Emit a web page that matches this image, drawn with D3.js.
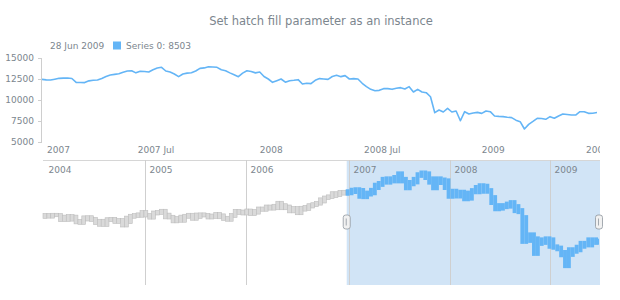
<!DOCTYPE html>
<html>
<head>
<meta charset="utf-8">
<script src="https://cdn.jsdelivr.net/npm/d3@7"></script>
<style>
  body { margin: 0; background: #fff; }
  svg { display: block; font-family: Verdana, "DejaVu Sans", sans-serif; }
  .lbl { fill: #7c868e; font-size: 9px; }
</style>
</head>
<body>
<svg id="chart" width="620" height="300"></svg>
<script>
// weekly closes, one per Sunday from 4 Jan 2004 to 28 Jun 2009
const close2004 = [10450, 10600, 10570, 10490, 10470, 10580, 10620, 10580, 10590, 10240, 10190, 10210, 10470,
  10510, 10450, 10470, 10230, 10120, 10010, 9970, 10120, 10240, 10410, 10420, 10370, 10280, 10210, 10140, 9960,
  10140, 9820, 9810, 10110, 10190, 10260, 10290, 10280, 10050, 10080, 10190, 10050, 9930, 9760, 10030, 10390,
  10540, 10460, 10520, 10590, 10540, 10650, 10830];
const close2005 = [10780, 10600, 10560, 10390, 10470, 10720, 10800, 10790, 10840, 10940, 10770, 10630, 10410,
  10400, 10460, 10090, 10160, 10190, 10350, 10140, 10470, 10540, 10460, 10510, 10620, 10300, 10300, 10450, 10640,
  10650, 10640, 10560, 10600, 10560, 10400, 10460, 10450, 10680, 10640, 10420, 10570, 10290, 10290, 10220, 10380,
  10530, 10590, 10770, 10930, 10880, 10780, 10880];
const close2006 = [10720, 10960, 10960, 10670, 10910, 10790, 10920, 11120, 11060, 11020, 11080, 11280, 11280,
  11110, 11120, 11140, 11340, 11380, 11580, 11380, 11140, 11280, 11250, 10890, 11010, 10990, 11150, 11090, 10740,
  11030, 11180, 11240, 11090, 11380, 11280, 11460, 11390, 11560, 11510, 11680, 11850, 11960, 12000, 12090, 12030,
  12110, 12340, 12280, 12190, 12310, 12450, 12340, 12460];
const close2007 = [12400, 12380, 12480, 12580, 12600, 12620, 12560, 12100, 12080, 12070, 12280, 12350, 12380,
  12570, 12800, 12980, 13050, 13120, 13300, 13450, 13490, 13230, 13420, 13400, 13330, 13600, 13800, 13890, 13450,
  13330, 13100, 12780, 13100, 13200, 13250, 13450, 13770, 13820, 13960, 13930, 13890, 13600, 13490, 13230, 13000,
  12780, 13200, 13490, 13400, 13230, 13330, 12800];
const close2008 = [12500, 12100, 12300, 12500, 12120, 12300, 12350, 12420, 11900, 12000, 11950, 12350, 12550,
  12500, 12460, 12800, 12940, 12780, 12900, 12500, 12550, 12500, 11990, 11600, 11270, 11100, 11150, 11350, 11350,
  11270, 11400, 11470, 11310, 11590, 10950, 11270, 10950, 10870, 10390, 8490, 8810, 8570, 9010, 8570, 8690, 7530,
  8610, 8330, 8450, 8530, 8410, 8690];
const close2009 = [8610, 8100, 8050, 8020, 7950, 7900, 7600, 7420, 6550, 7100, 7450, 7820, 7800, 7700, 8020,
  7820, 8100, 8330, 8270, 8210, 8210, 8610, 8610, 8410, 8420, 8503];

const seriesName = "Series 0";
const titleText = "Set hatch fill parameter as an instance";
const yTicks = [5000, 7500, 10000, 12500, 15000];
const mainTicks = ["2007-01-07", "2007-07-01", "2008-01-06", "2008-07-06", "2009-01-04", "2009-07-05"];
const mainTickLabels = ["2007", "2007 Jul", "2008", "2008 Jul", "2009", "2009 Jul"];
const scrollTicks = ["2004-01-04", "2005-01-02", "2006-01-01", "2007-01-07", "2008-01-06", "2009-01-04"];
const scrollTickLabels = ["2004", "2005", "2006", "2007", "2008", "2009"];
const selectionStart = "2006-12-31";

const parse = d3.timeParse("%Y-%m-%d");
const closes = [].concat(close2004, close2005, close2006, close2007, close2008, close2009);
const dates = d3.timeWeek.range(new Date(2004, 0, 4), new Date(2009, 5, 29));
const data = dates.map((d, i) => ({ date: d, value: closes[i] }));
const last = data[data.length - 1];
const selStart = parse(selectionStart);

const svg = d3.select("#chart");
const blue = "#64b5f6";

// title
svg.append("text")
  .attr("x", 321).attr("y", 25)
  .attr("text-anchor", "middle")
  .attr("fill", "#7c868e")
  .style("font-size", "11.5px")
  .text(titleText);

// legend
const legend = svg.append("g").attr("transform", "translate(50,49)");
legend.append("text").attr("class", "lbl").attr("x", 0).attr("y", 0)
  .text(d3.timeFormat("%d %b %Y")(last.date));
legend.append("rect").attr("x", 63).attr("y", -7.5).attr("width", 8).attr("height", 8).attr("fill", blue);
legend.append("text").attr("class", "lbl").attr("x", 76).attr("y", 0)
  .text(`${seriesName}: ${last.value}`);

// ---- main plot
const main = { left: 42, right: 600, top: 58, bottom: 142 };
const x = d3.scaleTime().domain([selStart, last.date]).range([main.left, 597]);
const y = d3.scaleLinear().domain([5000, 15000]).range([main.bottom, main.top]);

svg.append("clipPath").attr("id", "mainClip")
  .append("rect").attr("x", main.left).attr("y", 0).attr("width", main.right - main.left).attr("height", 160);

const yAxis = svg.append("g").attr("transform", `translate(${main.left},0)`)
  .call(d3.axisLeft(y).tickValues(yTicks).tickSize(4).tickPadding(4).tickFormat(d3.format("d")));
yAxis.select(".domain").attr("stroke", "#cecece").attr("d", `M-0.5,${main.top}V${main.bottom}`);
yAxis.selectAll(".tick line").attr("stroke", "#cecece");
yAxis.selectAll(".tick text").attr("class", "lbl").attr("fill", null).style("font-size", null);
yAxis.attr("font-family", null).attr("font-size", null);

// x labels, clipped at the plot edge like the original
const xLabels = svg.append("g").attr("clip-path", "url(#mainClip)");
mainTicks.forEach((t, i) => {
  const txt = xLabels.append("text").attr("class", "lbl").attr("y", 153)
    .attr("text-anchor", "middle").text(mainTickLabels[i]);
  const w = txt.node().getComputedTextLength();
  let cx = x(parse(t)) + 3;
  if (cx - w / 2 < main.left + 5) cx = main.left + 5 + w / 2;
  txt.attr("x", cx);
});

const line = d3.line().x(d => x(d.date)).y(d => y(d.value));
svg.append("path")
  .datum(data.filter(d => d.date >= selStart))
  .attr("clip-path", "url(#mainClip)")
  .attr("fill", "none")
  .attr("stroke", blue)
  .attr("stroke-width", 1.6)
  .attr("stroke-linejoin", "round")
  .attr("d", line);

// ---- scroller
const sc = { left: 44, right: 599, top: 160, bottom: 285 };
const xs = d3.scaleTime().domain([data[0].date, last.date]).range([sc.left, sc.right]);
const ys = d3.scaleLinear().domain([5000, 15000]).range([sc.bottom, sc.top]);

svg.append("line").attr("x1", 43).attr("x2", 600).attr("y1", sc.top + 0.5).attr("y2", sc.top + 0.5)
  .attr("stroke", "#d6d6d6");

// selected range
svg.append("rect")
  .attr("x", xs(selStart)).attr("y", sc.top + 1)
  .attr("width", xs(last.date) - xs(selStart) + 1).attr("height", sc.bottom - sc.top - 1)
  .attr("fill", "#1976d2").attr("fill-opacity", 0.2);

scrollTicks.forEach((t, i) => {
  const gx = Math.round(xs(parse(t))) + 0.5;
  if (i > 0) {
    svg.append("line").attr("x1", gx).attr("x2", gx).attr("y1", sc.top).attr("y2", sc.bottom)
      .attr("stroke", "#cfcfcf");
  }
  svg.append("text").attr("class", "lbl").attr("x", gx + 4).attr("y", 173).text(scrollTickLabels[i]);
});

// two-week bars spanning previous close, own closes and next close
const bars = [];
for (let i = 0; i < data.length; i += 2) {
  const grp = data.slice(i, i + 2);
  const open = i > 0 ? data[i - 1].value : data[0].value;
  const next = data[i + 2] ? data[i + 2].value : grp[grp.length - 1].value;
  const vals = [open, next].concat(grp.map(d => d.value));
  bars.push({
    date: data[i].date,
    end: d3.timeDay.offset(data[i].date, 14),
    lo: d3.min(vals), hi: d3.max(vals),
    sel: data[i].date >= selStart
  });
}
svg.append("g").selectAll("rect").data(bars).join("rect")
  .attr("x", d => xs(d.date) - 1)
  .attr("width", d => Math.min(xs(d.end), sc.right + 1) - xs(d.date))
  .attr("y", d => ys(d.hi) - (d.sel ? 2.5 : 1.5))
  .attr("height", d => Math.max(ys(d.lo) - ys(d.hi), 0) + (d.sel ? 5 : 3))
  .attr("fill", d => d.sel ? blue : "#dadada")
  .attr("stroke", d => d.sel ? "none" : "#bdbdbd")
  .attr("stroke-width", 0.6);

// handles
[xs(selStart), xs(last.date)].forEach(hx => {
  const g = svg.append("g").attr("transform", `translate(${hx},222)`);
  g.append("rect").attr("x", -3.5).attr("y", -7).attr("width", 7).attr("height", 14).attr("rx", 2.5)
    .attr("fill", "#f1f1f1").attr("stroke", "#8f979e").attr("stroke-width", 0.8);
  g.append("line").attr("x1", -0.5).attr("x2", -0.5).attr("y1", -3.5).attr("y2", 3.5)
    .attr("stroke", "#8f979e").attr("stroke-width", 0.8);
});
</script>
</body>
</html>
